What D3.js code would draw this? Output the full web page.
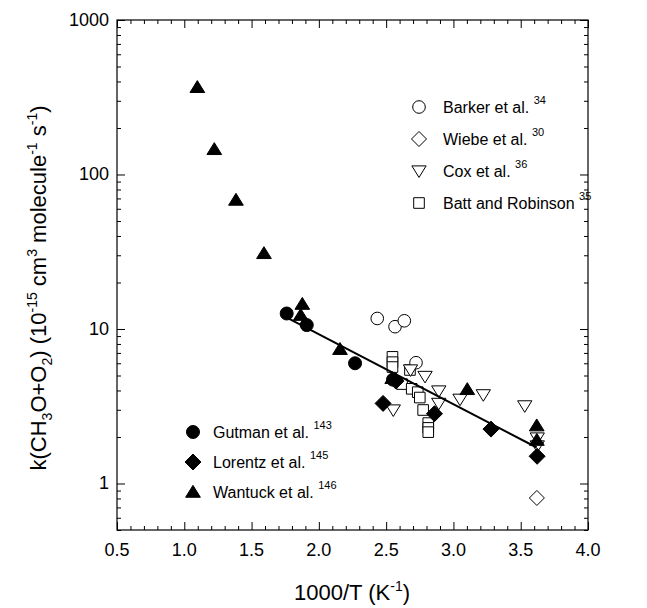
<!DOCTYPE html>
<html><head><meta charset="utf-8">
<script src="https://cdn.jsdelivr.net/npm/d3@7"></script>
<style>body{margin:0;background:#fff}svg{display:block}text{font-family:"Liberation Sans",Arial,sans-serif;fill:#000}</style>
</head><body><div id="chart"></div>
<script>
// ---- data (x = 1000/T in K^-1, y = k in 1e-15 cm3 molecule-1 s-1) ----
const xTickValues = [0.5, 1.0, 1.5, 2.0, 2.5, 3.0, 3.5, 4.0];
const xTickLabels = ["0.5", "1.0", "1.5", "2.0", "2.5", "3.0", "3.5", "4.0"];
const yTickValues = [1, 10, 100, 1000];
const yTickLabels = ["1", "10", "100", "1000"];

const barkerX = [2.434, 2.566, 2.635, 2.722];
const barkerY = [11.7, 10.35, 11.3, 6.05];
const wiebeX = [3.62];
const wiebeY = [0.806];
const coxX = [2.553, 2.681, 2.789, 2.891, 2.891, 3.049, 3.222, 3.530, 3.623, 3.623];
const coxY = [2.99, 5.43, 4.93, 3.97, 3.30, 3.51, 3.75, 3.18, 1.97, 1.75];
const battX = [2.547, 2.547, 2.547, 2.677, 2.618, 2.690, 2.735, 2.750, 2.775, 2.813, 2.813, 2.813];
const battY = [6.6, 6.1, 5.67, 5.43, 4.4, 4.1, 3.9, 3.6, 2.99, 2.46, 2.29, 2.15];
const gutmanX = [1.761, 1.910, 2.269, 2.551];
const gutmanY = [12.6, 10.6, 6.0, 4.7];
const lorentzX = [2.477, 2.573, 2.859, 3.279, 3.622];
const lorentzY = [3.3, 4.6, 2.83, 2.25, 1.5];
const wantuckX = [1.097, 1.223, 1.384, 1.592, 1.877, 1.865, 2.157, 2.545, 3.103, 3.619, 3.62];
const wantuckY = [367, 145.6, 68.4, 30.9, 14.5, 12.3, 7.4, 4.8, 4.07, 2.37, 1.91];
const fitX = [1.773, 3.619];
const fitY = [11.7, 1.71];

// ---- layout ----
const W = 647, H = 608;
const L = 117, R = 588, T = 20, B = 530;
const svg = d3.select("#chart").append("svg").attr("width", W).attr("height", H);

const x = d3.scaleLinear().domain([0.5, 4.0]).range([L, R]);
const y = d3.scaleLog().domain([0.5, 1000]).range([B, T]);

// minor ticks
const xMinor = d3.range(5, 41).map(d => d / 10).filter(v => !xTickValues.some(t => Math.abs(t - v) < 1e-9));
const yMinor = [];
[0.1, 1, 10, 100].forEach(dec => { for (let k = 2; k <= 9; k++) { const v = dec * k; if (v >= 0.5 && v < 1000) yMinor.push(v); } });

const g = svg.append("g");
function axisLines(axisGen, transform) {
  const a = g.append("g").attr("transform", transform).call(axisGen);
  a.select(".domain").remove();
  a.selectAll("line").attr("stroke", "#000").attr("stroke-width", 1);
  return a;
}
// bottom (ticks inward)
axisLines(d3.axisTop(x).tickValues(xTickValues).tickSize(8).tickFormat(""), `translate(0,${B})`);
axisLines(d3.axisTop(x).tickValues(xMinor).tickSize(4).tickFormat(""), `translate(0,${B})`);
// top
axisLines(d3.axisBottom(x).tickValues(xTickValues).tickSize(8).tickFormat(""), `translate(0,${T})`);
axisLines(d3.axisBottom(x).tickValues(xMinor).tickSize(4).tickFormat(""), `translate(0,${T})`);
// left
axisLines(d3.axisRight(y).tickValues(yTickValues).tickSize(8).tickFormat(""), `translate(${L},0)`);
axisLines(d3.axisRight(y).tickValues(yMinor).tickSize(4).tickFormat(""), `translate(${L},0)`);
// right
axisLines(d3.axisLeft(y).tickValues(yTickValues).tickSize(8).tickFormat(""), `translate(${R},0)`);
axisLines(d3.axisLeft(y).tickValues(yMinor).tickSize(4).tickFormat(""), `translate(${R},0)`);

// frame
g.append("rect").attr("x", L).attr("y", T).attr("width", R - L).attr("height", B - T)
  .attr("fill", "none").attr("stroke", "#000").attr("stroke-width", 1.2);

// tick labels
g.selectAll(".xl").data(xTickValues).enter().append("text")
  .attr("x", d => x(d)).attr("y", B + 26).attr("text-anchor", "middle")
  .attr("font-size", 18).text((d, i) => xTickLabels[i]);
g.selectAll(".yl").data(yTickValues).enter().append("text")
  .attr("x", L - 8).attr("y", d => y(d) + 6).attr("text-anchor", "end")
  .attr("font-size", 18).text((d, i) => yTickLabels[i]);

// axis titles
const xt = svg.append("text").attr("x", 352).attr("y", 600).attr("text-anchor", "middle").attr("font-size", 22);
xt.append("tspan").text("1000/T (K");
xt.append("tspan").attr("font-size", 14).attr("dy", -9).text("-1");
xt.append("tspan").attr("dy", 9).text(")");

const yt = svg.append("text").attr("transform", "translate(46,288) rotate(-90)").attr("text-anchor", "middle").attr("font-size", 22);
const parts = [["k(CH", 0], ["3", 1], ["O+O", 0], ["2", 1], [") (10", 0], ["-15", 2], [" cm", 0], ["3", 2], [" molecule", 0], ["-1", 2], [" s", 0], ["-1", 2], [")", 0]];
let cur = 0;
parts.forEach(([t, k]) => {
  const target = k === 1 ? 6 : (k === 2 ? -9 : 0);
  yt.append("tspan").attr("dy", target - cur).attr("font-size", k ? 14 : 22).text(t);
  cur = target;
});

// ---- symbol paths ----
function sym(type, s) {
  switch (type) {
    case "circle": return `M${s},0A${s},${s} 0 1,1 ${-s},0A${s},${s} 0 1,1 ${s},0Z`;
    case "diamond": return `M0,${-s}L${s},0L0,${s}L${-s},0Z`;
    case "square": return `M${-s},${-s}H${s}V${s}H${-s}Z`;
    case "tri": return `M0,${-s * 0.95}L${s * 1.05},${s * 0.75}L${-s * 1.05},${s * 0.75}Z`;
    case "triDown": return `M0,${s * 0.95}L${s * 1.05},${-s * 0.75}L${-s * 1.05},${-s * 0.75}Z`;
  }
}
function plot(xs, ys, type, size, filled) {
  g.append("g").selectAll("path").data(xs.map((d, i) => [d, ys[i]])).enter().append("path")
    .attr("transform", d => `translate(${x(d[0])},${y(d[1])})`)
    .attr("d", sym(type, size))
    .attr("fill", filled ? "#000" : "#fff")
    .attr("stroke", "#000").attr("stroke-width", 1);
}

plot(battX, battY, "square", 5.3, false);
plot(barkerX, barkerY, "circle", 6.3, false);
plot(wiebeX, wiebeY, "diamond", 7.5, false);
plot(coxX, coxY, "triDown", 6.8, false);

// fit line
const line = d3.line().x(d => x(d[0])).y(d => y(d[1]));
g.append("path").datum(fitX.map((d, i) => [d, fitY[i]])).attr("d", line)
  .attr("fill", "none").attr("stroke", "#000").attr("stroke-width", 2);

plot(gutmanX, gutmanY, "circle", 6.5, true);
plot(lorentzX, lorentzY, "diamond", 8, true);
plot(wantuckX, wantuckY, "tri", 7, true);

// ---- legends ----
const legTop = [["circle", 6.3, false, "Barker et al.", "34"], ["diamond", 7.5, false, "Wiebe et al.", "30"], ["triDown", 6.8, false, "Cox et al.", "36"], ["square", 5.3, false, "Batt and Robinson", "35"]];
const legBot = [["circle", 6.5, true, "Gutman et al.", "143"], ["diamond", 8, true, "Lorentz et al.", "145"], ["tri", 7, true, "Wantuck et al.", "146"]];
function legend(items, sx, tx, y0, dy) {
  items.forEach((it, i) => {
    const yy = y0 + i * dy;
    g.append("path").attr("transform", `translate(${sx},${yy})`).attr("d", sym(it[0], it[1]))
      .attr("fill", it[2] ? "#000" : "#fff").attr("stroke", "#000");
    const t = g.append("text").attr("x", tx).attr("y", yy + 6).attr("font-size", 16);
    t.append("tspan").text(it[3] + " ");
    t.append("tspan").attr("font-size", 11).attr("dy", -9).text(it[4]);
  });
}
legend(legTop, 419, 443, 107, 32);
legend(legBot, 193, 213, 432, 30);
</script></body></html>
